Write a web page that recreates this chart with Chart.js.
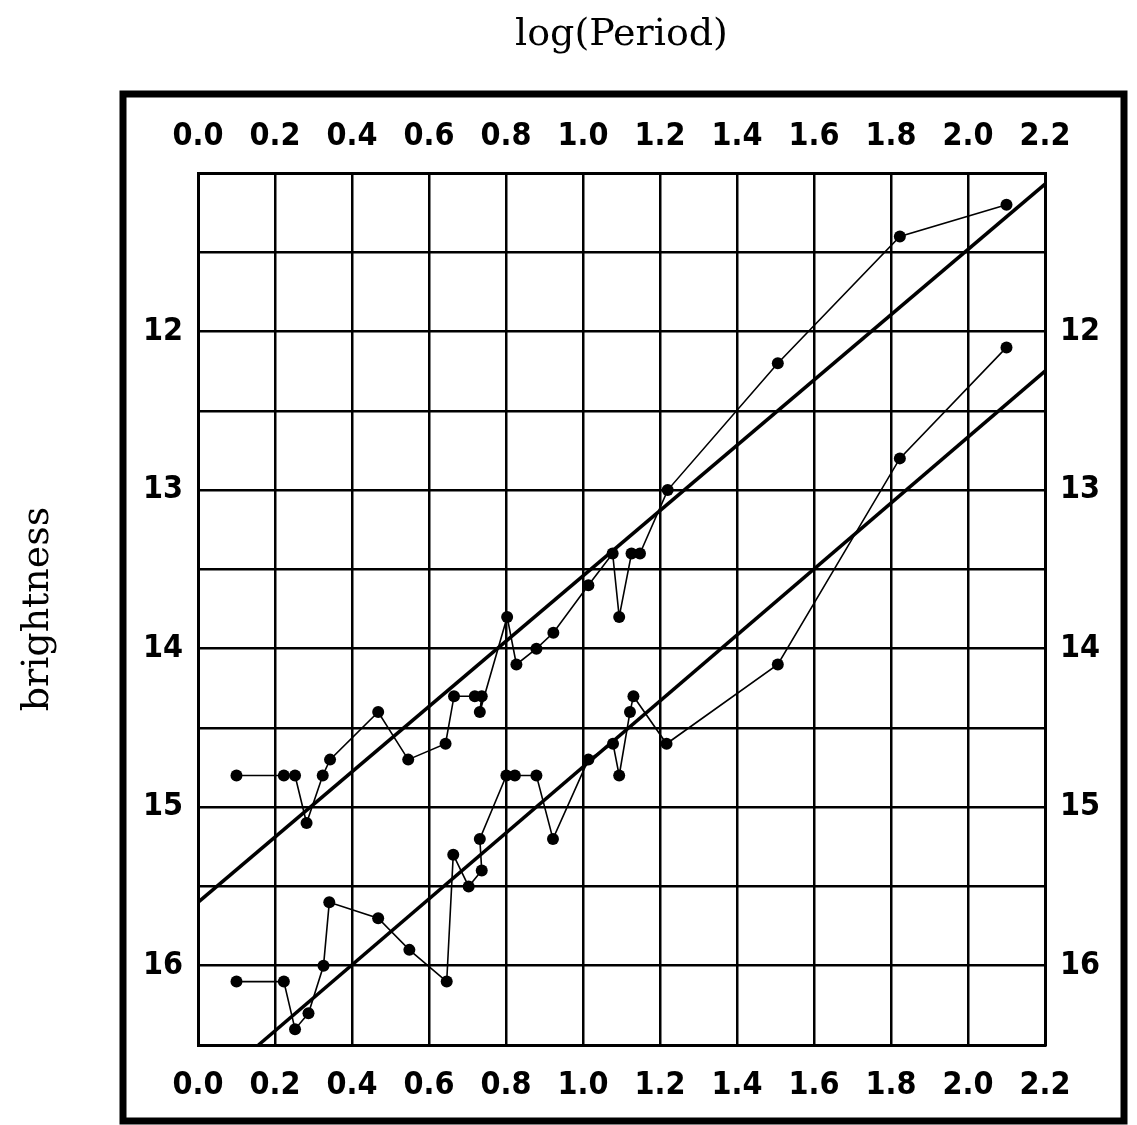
<!DOCTYPE html>
<html>
<head>
<meta charset="utf-8">
<script src="https://cdn.jsdelivr.net/npm/chart.js@4.4.1/dist/chart.umd.min.js"></script>
<style>
  body { margin: 0; background: #fff; }
  #wrap { position: relative; width: 1137px; height: 1125px; }
</style>
</head>
<body>
<div id="wrap"><canvas id="grafico"></canvas></div>
<script>
// ===============================
//  DATI
// ===============================
const logPeriodMax = [0.100, 0.223, 0.252, 0.282, 0.324, 0.343, 0.468, 0.546, 0.643, 0.665, 0.719, 0.737, 0.732,
  0.803, 0.827, 0.879, 0.923, 1.014, 1.077, 1.094, 1.126, 1.148, 1.220, 1.506, 1.823, 2.100];
const brightnessMax = [14.8, 14.8, 14.8, 15.1, 14.8, 14.7, 14.4, 14.7, 14.6, 14.3, 14.3, 14.3, 14.4,
  13.8, 14.1, 14.0, 13.9, 13.6, 13.4, 13.8, 13.4, 13.4, 13.0, 12.2, 11.4, 11.2];

const logPeriodMin = [0.100, 0.223, 0.252, 0.287, 0.326, 0.341, 0.468, 0.549, 0.646, 0.663, 0.703, 0.737, 0.732,
  0.801, 0.823, 0.879, 0.922, 1.014, 1.078, 1.094, 1.122, 1.131, 1.217, 1.506, 1.823, 2.100];
const brightnessMin = [16.1, 16.1, 16.4, 16.3, 16.0, 15.6, 15.7, 15.9, 16.1, 15.3, 15.5, 15.4, 15.2,
  14.8, 14.8, 14.8, 15.2, 14.7, 14.6, 14.8, 14.4, 14.3, 14.6, 14.1, 12.8, 12.1];

// rette di regressione (estremi)
const fitMaxX = [0.0, 2.2];
const fitMaxY = [15.6, 11.07];
const fitMinX = [0.157, 2.2];
const fitMinY = [16.5, 12.25];

const yTickLabels = [12, 13, 14, 15, 16];

// ===============================
//  HELPERS
// ===============================
const toPoints = (xs, ys) => xs.map((x, i) => ({ x: x, y: ys[i] }));

const tickFont = { family: "'DejaVu Sans Condensed', 'Liberation Sans Narrow', sans-serif", size: 32, weight: "bold" };
const titleFont = { family: "'DejaVu Serif', 'Liberation Serif', serif", size: 38 };

const xTickCb = v => Number(v).toFixed(1);
const yTickCb = v => (yTickLabels.includes(Number(v)) ? String(v) : "");

// cornice esterna spessa
const framePlugin = {
  id: "frame",
  afterDraw(chart) {
    const c = chart.ctx;
    c.save();
    c.strokeStyle = "#000";
    c.lineWidth = 7;
    c.strokeRect(123, 94, 1001, 1027);
    c.restore();
  }
};

const gridOpts = { color: "#000", lineWidth: 2.5, drawTicks: false };
const borderOpts = { display: true, color: "#000", width: 3 };

function serie(label, xs, ys) {
  return {
    label: label,
    data: toPoints(xs, ys),
    showLine: true,
    borderColor: "#000",
    borderWidth: 1.6,
    backgroundColor: "#000",
    pointRadius: 6,
    pointBorderWidth: 0,
    xAxisID: "x",
    yAxisID: "y"
  };
}

function retta(label, xs, ys) {
  return {
    label: label,
    data: toPoints(xs, ys),
    showLine: true,
    borderColor: "#000",
    borderWidth: 3.5,
    pointRadius: 0,
    xAxisID: "x",
    yAxisID: "y"
  };
}

// ===============================
//  GRAFICO
// ===============================
const ctx = document.getElementById("grafico").getContext("2d");

new Chart(ctx, {
  type: "scatter",
  data: {
    datasets: [
      serie("max", logPeriodMax, brightnessMax),
      serie("min", logPeriodMin, brightnessMin),
      retta("fit max", fitMaxX, fitMaxY),
      retta("fit min", fitMinX, fitMinY)
    ]
  },
  options: {
    responsive: true,
    maintainAspectRatio: false,
    animation: false,
    layout: { padding: 0 },
    plugins: {
      legend: { display: false },
      tooltip: { enabled: false }
    },
    scales: {
      x: {
        type: "linear",
        position: "bottom",
        min: 0, max: 2.2,
        grid: gridOpts,
        border: borderOpts,
        ticks: { stepSize: 0.2, color: "#000", font: tickFont, padding: 21, maxRotation: 0, autoSkip: false, callback: xTickCb },
        afterFit(s) { s.height = 80; }
      },
      xTop: {
        type: "linear",
        position: "top",
        min: 0, max: 2.2,
        grid: { display: false, drawTicks: false },
        border: borderOpts,
        ticks: { stepSize: 0.2, color: "#000", font: tickFont, padding: 17, maxRotation: 0, autoSkip: false, callback: xTickCb },
        title: { display: true, text: "log(Period)", color: "#000", font: titleFont, padding: { top: 12, bottom: 0 } },
        afterFit(s) { s.height = 173; }
      },
      y: {
        type: "linear",
        position: "left",
        reverse: true,
        min: 11, max: 16.5,
        grid: gridOpts,
        border: borderOpts,
        ticks: { stepSize: 0.5, color: "#000", font: tickFont, padding: 15, autoSkip: false, callback: yTickCb },
        title: { display: true, text: "brightness", color: "#000", font: titleFont, padding: { top: 15, bottom: 0 } },
        afterFit(s) { s.width = 198; }
      },
      yRight: {
        type: "linear",
        position: "right",
        reverse: true,
        min: 11, max: 16.5,
        grid: { display: false, drawTicks: false },
        border: borderOpts,
        ticks: { stepSize: 0.5, color: "#000", font: tickFont, padding: 15, autoSkip: false, callback: yTickCb },
        afterFit(s) { s.width = 92; }
      }
    }
  },
  plugins: [framePlugin]
});
</script>
</body>
</html>
